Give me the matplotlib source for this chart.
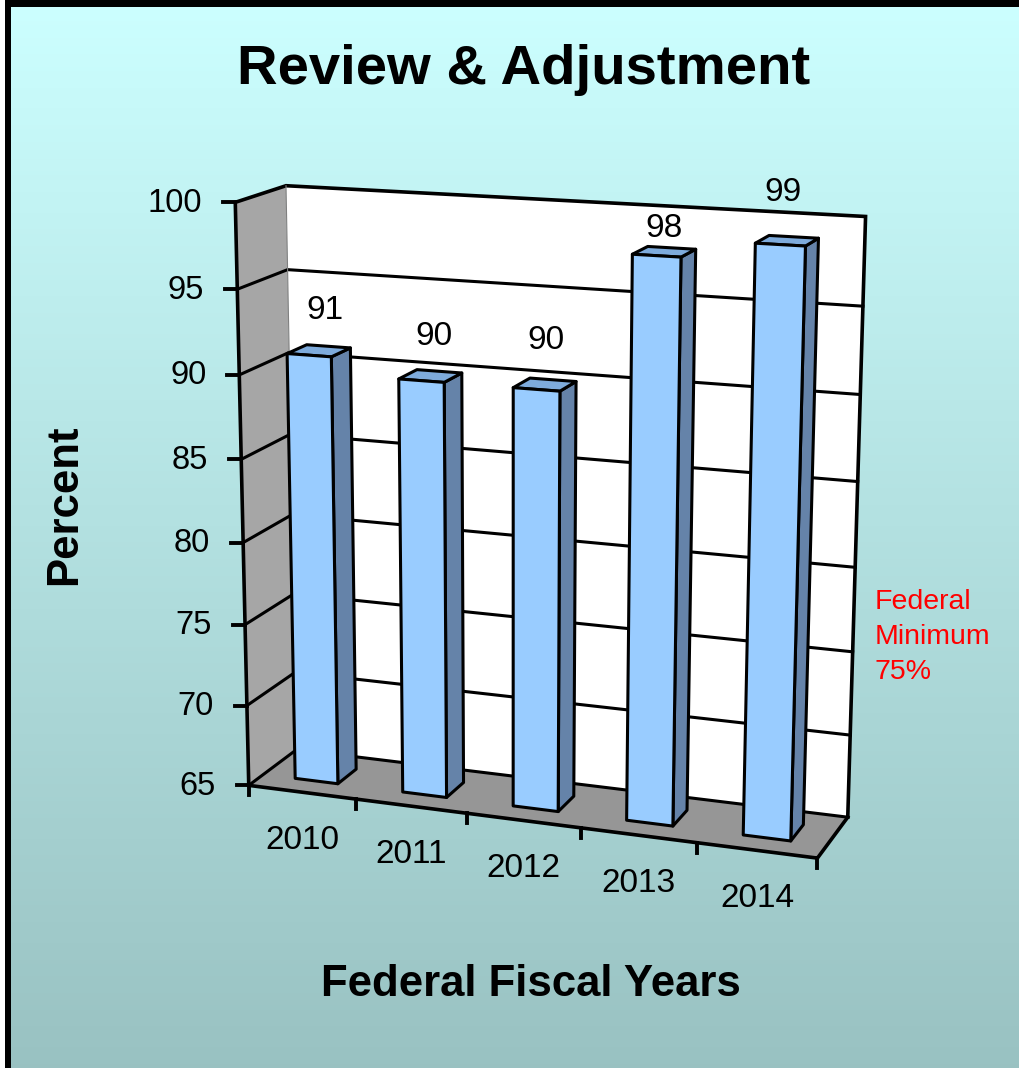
import numpy as np
import matplotlib
matplotlib.use("Agg")
import matplotlib.pyplot as plt
from matplotlib.patches import Polygon

# --- data -----------------------------------------------------------------
years = ["2010", "2011", "2012", "2013", "2014"]
percent = [91, 90, 90, 98, 99]
y_ticks = [65, 70, 75, 80, 85, 90, 95, 100]
v_min, v_max = 65, 100

title = "Review & Adjustment"
x_title = "Federal Fiscal Years"
y_title = "Percent"
note = "Federal\nMinimum\n75%"

# pixel nudge of each value label from the top centre of its bar
label_nudge = [(6, -40), (4, -39), (1, -44), (0, -23), (-4, -48)]

# --- perspective of the 3-D frame ------------------------------------------
# (category position, value, depth) -> pixel position of the chart frame
frame_ref = [
    ((0, 100, 0), (234, 203)),
    ((0, 65, 0), (250, 785)),
    ((0, 100, 1), (287, 186)),
    ((0, 65, 1), (295, 751)),
    ((5, 100, 1), (866, 216)),
    ((5, 65, 1), (848, 815)),
    ((5, 65, 0), (818, 858)),
    ((1, 65, 0), (358, 799)),
    ((2, 65, 0), (468, 814)),
    ((3, 65, 0), (579, 829)),
    ((4, 65, 0), (696, 844)),
    ((0, 90, 0), (239, 375)),
    ((0, 80, 0), (243, 540)),
    ((0, 70, 0), (247, 705)),
    ((5, 95, 1), (863, 307)),
]
n_cat = len(years)


def norm(c, v, d):
    return c / n_cat, (v - v_min) / (v_max - v_min), d


def fit_projection(refs):
    rows, rhs = [], []
    for (c, v, d), (px, py) in refs:
        X, Y, Z = norm(c, v, d)
        rows.append([X, Y, Z, 1, 0, 0, 0, 0, -px * X, -px * Y, -px * Z])
        rhs.append(px)
        rows.append([0, 0, 0, 0, X, Y, Z, 1, -py * X, -py * Y, -py * Z])
        rhs.append(py)
    p = np.linalg.lstsq(np.array(rows, float), np.array(rhs, float), rcond=None)[0]
    return np.append(p, 1.0).reshape(3, 4)


M = fit_projection(frame_ref)


def P(c, v, d):
    h = M @ np.array([*norm(c, v, d), 1.0])
    return h[0] / h[2], h[1] / h[2]


# --- figure -----------------------------------------------------------------
W, H = 1020, 1068
fig = plt.figure(figsize=(W / 100, H / 100), dpi=100)
ax = fig.add_axes([0, 0, 1, 1])
ax.set_xlim(0, W)
ax.set_ylim(H, 0)
ax.axis("off")

plt.rcParams["font.family"] = ["Liberation Sans", "DejaVu Sans"]

# background gradient
top_c = np.array([0.80, 1.00, 1.00])
bot_c = np.array([0.60, 0.76, 0.76])
t = np.linspace(0, 1, 256)[:, None, None]
grad = top_c * (1 - t) + bot_c * t
ax.imshow(grad, extent=[0, W, H, 0], aspect="auto", zorder=0)

# frame border (left and top)
ax.add_patch(Polygon([(0, 0), (W, 0), (W, 7), (0, 7)], closed=True,
                     facecolor="black", edgecolor="none", zorder=1))
ax.add_patch(Polygon([(0, 0), (5, 0), (5, H), (0, H)], closed=True,
                     facecolor="white", edgecolor="none", zorder=1))
ax.add_patch(Polygon([(5, 0), (11, 0), (11, H), (5, H)], closed=True,
                     facecolor="black", edgecolor="none", zorder=1))

LW = 2.2
last = n_cat

# walls and floor
left_wall = [P(0, v_min, 0), P(0, v_min, 1), P(0, v_max, 1), P(0, v_max, 0)]
floor = [P(0, v_min, 0), P(last, v_min, 0), P(last, v_min, 1), P(0, v_min, 1)]
back_wall = [P(0, v_min, 1), P(last, v_min, 1), P(last, v_max, 1), P(0, v_max, 1)]
ax.add_patch(Polygon(left_wall, closed=True, facecolor="#a6a6a6", edgecolor="none", zorder=2))
ax.add_patch(Polygon(floor, closed=True, facecolor="#969696", edgecolor="none", zorder=2))
ax.add_patch(Polygon(back_wall, closed=True, facecolor="white", edgecolor="none", zorder=2))

# gridlines on left wall and back wall
for v in y_ticks[:-1]:
    pts = [P(0, v, 0), P(0, v, 1), P(last, v, 1)]
    ax.plot(*zip(*pts), color="black", lw=LW, solid_joinstyle="miter", zorder=3)

# frame edges
edge_sets = [
    [P(0, v_min, 0), P(0, v_max, 0), P(0, v_max, 1), P(last, v_max, 1), P(last, v_min, 1)],
    [P(0, v_min, 0), P(last, v_min, 0), P(last, v_min, 1)],
]
for pts in edge_sets:
    ax.plot(*zip(*pts), color="black", lw=LW + 0.4, solid_joinstyle="miter",
            solid_capstyle="projecting", zorder=3)
ax.plot(*zip(P(0, v_min, 1), P(0, v_max, 1)), color="#808080", lw=0.8, zorder=3)

# y ticks and labels
for v in y_ticks:
    x, y = P(0, v, 0)
    ax.plot([x - 12, x], [y, y], color="black", lw=LW + 0.6, zorder=3)
    ax.text(x - 33, y + 1, str(v), ha="right", va="center", fontsize=23.5, zorder=4)

# x ticks and category labels
for i in range(n_cat + 1):
    x, y = P(i, v_min, 0)
    ax.plot([x, x], [y, y + 10], color="black", lw=LW + 0.6, zorder=3)
for i, yr in enumerate(years):
    x, y = P(i + 0.5, v_min, 0)
    ax.text(x, y + 48, yr, ha="center", va="center", fontsize=24, zorder=4)

# bars
front_c, side_c, top_fc = "#99ccff", "#6583a9", "#7eabdc"
for i, val in enumerate(percent):
    x0, x1 = i + 0.3, i + 0.7
    z0, z1 = 0.3, 0.7
    side = [P(x1, v_min, z0), P(x1, v_min, z1), P(x1, val, z1), P(x1, val, z0)]
    top = [P(x0, val, z0), P(x1, val, z0), P(x1, val, z1), P(x0, val, z1)]
    front = [P(x0, v_min, z0), P(x1, v_min, z0), P(x1, val, z0), P(x0, val, z0)]
    for poly, fc in ((side, side_c), (top, top_fc), (front, front_c)):
        ax.add_patch(Polygon(poly, closed=True, facecolor=fc, edgecolor="black",
                             lw=LW, joinstyle="round", zorder=5))
    lx, ly = P(i + 0.5, val, 0.5)
    dx, dy = label_nudge[i]
    ax.text(lx + dx, ly + dy, str(val), ha="center", va="center", fontsize=24, zorder=6)

# titles and note
ax.text(524, 70, title, ha="center", va="center", fontsize=40.5, fontweight="bold", zorder=6)
ax.text(531, 985, x_title, ha="center", va="center", fontsize=31.5, fontweight="bold", zorder=6)
ax.text(65, 505, y_title, ha="center", va="center", rotation=90, fontsize=31.5,
        fontweight="bold", zorder=6)
ax.text(875, 637, note, ha="left", va="center", color="#ff0000", fontsize=20.5,
        linespacing=1.45, zorder=6)

fig.savefig("out.png", dpi=100)
